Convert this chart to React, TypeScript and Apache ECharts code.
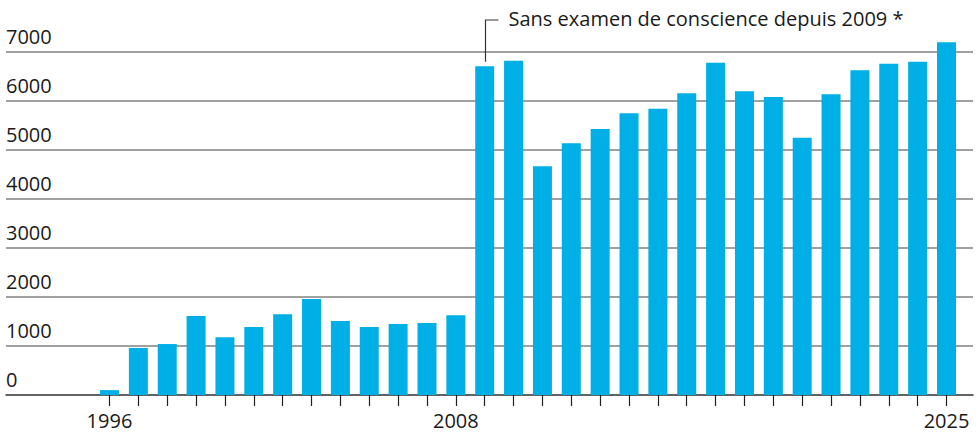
import React, { useEffect, useRef } from "react";
import * as echarts from "echarts";

const years: number[] = [
  1996, 1997, 1998, 1999, 2000, 2001, 2002, 2003, 2004, 2005,
  2006, 2007, 2008, 2009, 2010, 2011, 2012, 2013, 2014, 2015,
  2016, 2017, 2018, 2019, 2020, 2021, 2022, 2023, 2024, 2025,
];
const values: number[] = [
  100, 960, 1040, 1610, 1180, 1390, 1650, 1960, 1510, 1390,
  1450, 1470, 1630, 6710, 6820, 4670, 5140, 5430, 5750, 5840,
  6160, 6780, 6200, 6080, 5250, 6140, 6630, 6760, 6800, 7200,
];
const xLabelYears: number[] = [1996, 2008, 2025];
const yTicks: number[] = [0, 1000, 2000, 3000, 4000, 5000, 6000, 7000];
const annotationText = "Sans examen de conscience depuis 2009 *";
const annotationYear = 2009;

const FONT = "'Open Sans', 'Noto Sans', sans-serif";

export default function App() {
  const ref = useRef<HTMLDivElement>(null);
  useEffect(() => {
    if (!ref.current) return;
    const chart = echarts.init(ref.current, null, { renderer: "svg" });
    chart.setOption({
      animation: false,
      backgroundColor: "#ffffff",
      grid: { left: 6, right: 6, top: 52, bottom: 37, containLabel: false },
      xAxis: {
        type: "value",
        min: 1992.414,
        max: 2025.918,
        splitLine: { show: false },
        axisLine: { show: true, onZero: true, lineStyle: { color: "#4d4d4d", width: 1.6 } },
        axisTick: {
          show: true,
          customValues: years,
          length: 11,
          lineStyle: { color: "#222222", width: 1.2 },
        },
        axisLabel: {
          show: true,
          customValues: xLabelYears,
          fontSize: 20,
          fontFamily: FONT,
          color: "#1a1a1a",
          margin: 15,
          formatter: (v: number) => String(v),
        },
      },
      yAxis: {
        type: "value",
        min: yTicks[0],
        max: yTicks[yTicks.length - 1],
        interval: yTicks[1] - yTicks[0],
        axisLine: { show: false },
        axisTick: { show: false },
        splitLine: { show: true, lineStyle: { color: "#808080", width: 1.6 } },
        axisLabel: {
          inside: true,
          margin: 0,
          align: "left",
          verticalAlign: "bottom",
          padding: [0, 0, 6, 0],
          fontSize: 20,
          fontFamily: FONT,
          color: "#1a1a1a",
          formatter: (v: number) => String(v),
        },
      },
      series: [
        {
          type: "bar",
          data: years.map((y, i) => [y, values[i]]),
          barWidth: 19,
          clip: false,
          itemStyle: { color: "#00afe5" },
          z: 3,
        },
      ],
    });
    const p = chart.convertToPixel({ gridIndex: 0 }, [annotationYear, 6800]) as number[];
    const lx = Math.round(p[0]) + 0.5;
    const topY = 20;
    chart.setOption({
      graphic: [
        {
          type: "polyline",
          shape: { points: [[lx + 13, topY], [lx, topY], [lx, p[1]]] },
          style: { stroke: "#333333", lineWidth: 1.2, fill: "none" },
          z: 10,
        },
        {
          type: "text",
          x: lx + 23,
          y: topY - 2,
          style: {
            text: annotationText,
            fontSize: 20,
            fontFamily: FONT,
            fill: "#1a1a1a",
            verticalAlign: "middle",
            align: "left",
          },
          z: 10,
        },
      ],
    });
    return () => chart.dispose();
  }, []);
  return (
    <div
      ref={ref}
      style={{ position: "fixed", left: 0, top: 0, width: 979, height: 432 }}
    />
  );
}
